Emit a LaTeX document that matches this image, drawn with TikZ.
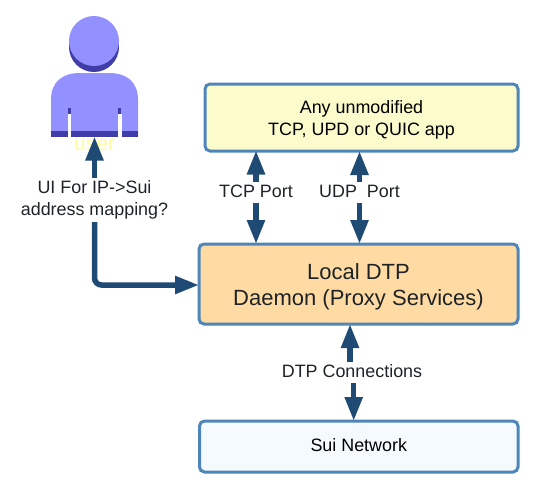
\documentclass[tikz,border=0pt]{standalone}
\usepackage{fontspec}
\setmainfont{Liberation Sans}
\usetikzlibrary{arrows.meta}
\definecolor{edgeblue}{HTML}{4F86B9}
\definecolor{arrowblue}{HTML}{1F4A73}
\definecolor{appfill}{HTML}{FCFBCB}
\definecolor{daemonfill}{HTML}{FFDBA3}
\definecolor{suifill}{HTML}{F5FAFF}
\definecolor{txt}{HTML}{1D2327}
\definecolor{personlight}{HTML}{9391FF}
\definecolor{persondark}{HTML}{403DA8}
\definecolor{usertxt}{HTML}{FFFBA0}
\tikzset{
  boxstyle/.style={draw=edgeblue,line width=3pt,rounded corners=5pt,anchor=north west,outer sep=0pt,inner sep=0pt,align=center,text=black},
  labelstyle/.style={text=txt,align=center,inner sep=0pt,font=\fontsize{17.9}{22}\selectfont},
  conn/.style={draw=arrowblue,line width=5.5pt,-{Triangle[length=24pt,width=17pt]}},
}
\begin{document}
\begin{tikzpicture}[x=1pt,y=-1pt]
\useasboundingbox (0,0) rectangle (537,498);
% person
\fill[persondark] (94,47) circle (25);
\fill[personlight] (94,41) circle (25);
\fill[personlight] (51,136) -- (51,100) .. controls (51,82) and (62,73) .. (80,73) -- (109,73) .. controls (127,73) and (138,82) .. (138,100) -- (138,136) -- cycle;
\fill[persondark] (51,131) rectangle (138,136.5);
\fill[persondark] (68,108) rectangle (71,114);
\fill[persondark] (118.3,108) rectangle (121.3,114);
\fill[white] (68.3,114) rectangle (71,137);
\fill[white] (118.3,114) rectangle (121.6,137);
\node[minimum width=87pt,minimum height=63.5pt,inner sep=0pt,outer sep=0pt] (person) at (94.5,104.75) {};
\node[text=usertxt,inner sep=0pt,font=\fontsize{21}{24}\selectfont] (usertext) at (94.5,145) {user};
% boxes
\node[boxstyle,fill=appfill,minimum width=313pt,minimum height=67pt,font=\fontsize{17.9}{22}\selectfont] (app) at (205,84) {\rule{0pt}{17pt}Any unmodified\\TCP, UPD or QUIC app};
\node[boxstyle,fill=daemonfill,minimum width=319pt,minimum height=80pt,text=txt,font=\fontsize{22}{26}\selectfont] (daemon) at (199,244) {\rule{0pt}{21pt}Local DTP\\Daemon (Proxy Services)};
\node[boxstyle,fill=suifill,minimum width=318.5pt,minimum height=51pt,font=\fontsize{17.9}{22}\selectfont] (sui) at (199.5,421) {\rule[-2pt]{0pt}{2pt}Sui Network};
% labels
\node[labelstyle,minimum height=44pt] (ui) at (94.5,200) {UI For IP->Sui\\address mapping?};
\node[labelstyle,minimum height=21pt] (tcp) at (256,192.5) {\raisebox{2.5pt}{TCP Port}};
\node[labelstyle,minimum height=21pt] (udp) at (359.5,192.5) {\raisebox{2.5pt}{UDP\ \ Port}};
\node[labelstyle,minimum height=21pt] (dtp) at (352,372.5) {\raisebox{3.5pt}{DTP Connections}};
% connectors
\draw[conn] (ui.north) -- (person.south);
\draw[conn,rounded corners=7pt] (ui.south) -- (94.5,285) -- (daemon.west |- 0,285);
\draw[conn,shorten >=-0.5pt] (tcp.north) -- (tcp.north |- app.south);
\draw[conn] (tcp.south) -- (tcp.south |- daemon.north);
\draw[conn] (udp.north) -- (udp.north |- app.south);
\draw[conn] (udp.south) -- (udp.south |- daemon.north);
\draw[conn] ([xshift=-2pt]dtp.north) -- ([xshift=-2pt]dtp.north |- daemon.south);
\draw[conn] ([xshift=1.7pt]dtp.south) -- ([xshift=1.7pt]dtp.south |- sui.north);
\end{tikzpicture}
\end{document}
